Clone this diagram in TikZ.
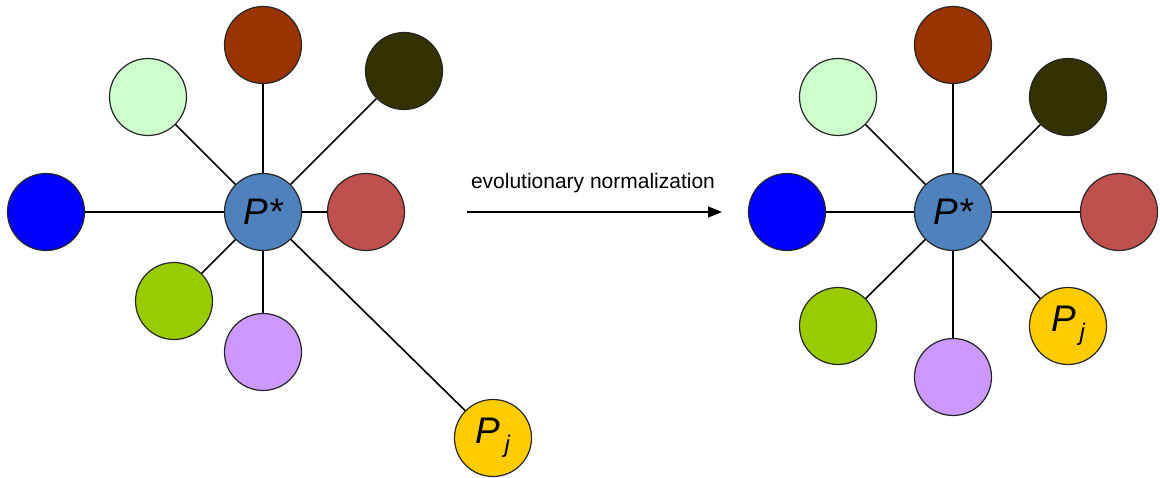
\documentclass[tikz,border=0pt]{standalone}
\usepackage{fontspec}
\setmainfont{Liberation Sans}
\usetikzlibrary{arrows.meta}
\definecolor{cDarkRed}{HTML}{993300}
\definecolor{cLightGreen}{HTML}{CCFFCC}
\definecolor{cOlive}{HTML}{333300}
\definecolor{cBlue}{HTML}{0000FF}
\definecolor{cRed}{HTML}{C0504D}
\definecolor{cGreen}{HTML}{99CC00}
\definecolor{cLavender}{HTML}{CC99FF}
\definecolor{cYellow}{HTML}{FFCC00}
\definecolor{cCenter}{HTML}{4F81BD}
\tikzset{
  ball/.style={circle, draw=black!85, line width=1.2pt, minimum size=77pt, inner sep=0pt},
  spoke/.style={line width=1.6pt, black},
  biglabel/.style={font=\fontsize{37}{37}\selectfont\itshape},
}
\newcommand{\pjlabel}{P\raisebox{-9pt}{\fontsize{24}{24}\selectfont\,j}}
\begin{document}
\begin{tikzpicture}[x=1pt,y=-1pt]
\useasboundingbox (0,0) rectangle (1160,478);
% left cluster
\node[ball, fill=cCenter, biglabel] (Lc) at (263,212) {P*};
\node[ball, fill=cDarkRed] (Ltop) at (263,45) {};
\node[ball, fill=cLightGreen] (Llg) at (148,97) {};
\node[ball, fill=cOlive] (Lol) at (404,71) {};
\node[ball, fill=cBlue] (Lbl) at (46,212) {};
\node[ball, fill=cRed] (Lrd) at (366,212) {};
\node[ball, fill=cGreen] (Lgr) at (174,301) {};
\node[ball, fill=cLavender] (Llv) at (263,352) {};
\node[ball, fill=cYellow, biglabel] (Lpj) at (493,438) {\pjlabel};
\foreach \n in {Ltop,Llg,Lol,Lbl,Lrd,Lgr,Llv,Lpj}
  \draw[spoke] (Lc) -- (\n);
% arrow
\coordinate (a1) at (467,212);
\coordinate (a2) at (722,212);
\draw[line width=1.6pt, -{Triangle[length=14pt,width=11pt]}] (a1) -- (a2);
\node[font=\fontsize{21}{21}\selectfont] (lab) at (593,183) {evolutionary normalization};
% right cluster
\node[ball, fill=cCenter, biglabel] (Rc) at (953,212) {P*};
\node[ball, fill=cDarkRed] (Rtop) at (953,45) {};
\node[ball, fill=cLightGreen] (Rlg) at (838,97) {};
\node[ball, fill=cOlive] (Rol) at (1068,97) {};
\node[ball, fill=cBlue] (Rbl) at (787,212) {};
\node[ball, fill=cRed] (Rrd) at (1119,212) {};
\node[ball, fill=cGreen] (Rgr) at (838,326) {};
\node[ball, fill=cLavender] (Rlv) at (953,377) {};
\node[ball, fill=cYellow, biglabel] (Rpj) at (1068,326) {\pjlabel};
\foreach \n in {Rtop,Rlg,Rol,Rbl,Rrd,Rgr,Rlv,Rpj}
  \draw[spoke] (Rc) -- (\n);
\end{tikzpicture}
\end{document}
